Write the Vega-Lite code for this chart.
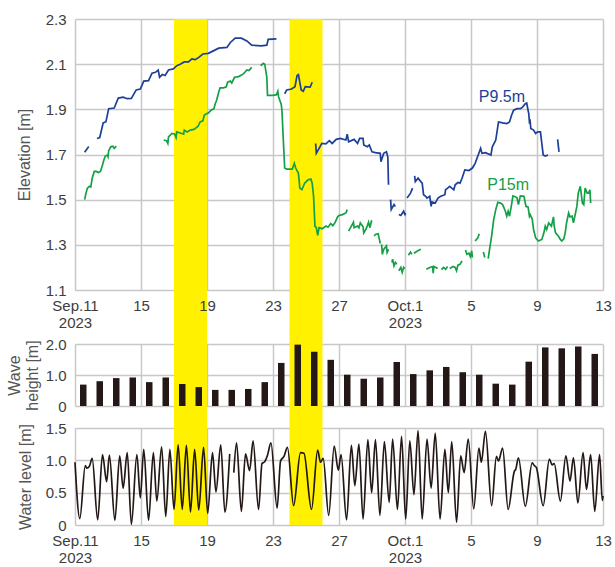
{
  "padding": {"left": 6, "right": 2, "top": 12, "bottom": 0},
  "bounds": "full",
  "spacing": -2,
  "config": {
    "font": "Liberation Sans",
    "view": {"stroke": null},
    "axis": {
      "domain": false,
      "ticks": false,
      "gridColor": "#c8c8c8",
      "gridWidth": 1.5,
      "labelFont": "Liberation Sans",
      "labelFontSize": 15,
      "labelColor": "#3d3d3d",
      "titleFont": "Liberation Sans",
      "titleFontSize": 16,
      "titleFontWeight": "normal",
      "titleColor": "#555555"
    }
  },
  "datasets": {
    "storms": [
      {"start": "2023-09-17T00:00", "end": "2023-09-19T00:00"},
      {"start": "2023-09-24T00:00", "end": "2023-09-26T00:00"}
    ],
    "elevation": [
      {"series": "P9.5m", "seg": "b1", "t": "2023-09-11T14:00", "v": 1.71},
      {"series": "P9.5m", "seg": "b1", "t": "2023-09-11T20:00", "v": 1.735},
      {"series": "P9.5m", "seg": "b2", "t": "2023-09-12T08:00", "v": 1.771},
      {"series": "P9.5m", "seg": "b2", "t": "2023-09-12T12:00", "v": 1.775},
      {"series": "P9.5m", "seg": "b2", "t": "2023-09-12T17:00", "v": 1.84},
      {"series": "P9.5m", "seg": "b2", "t": "2023-09-12T21:00", "v": 1.845},
      {"series": "P9.5m", "seg": "b2", "t": "2023-09-13T01:00", "v": 1.903},
      {"series": "P9.5m", "seg": "b2", "t": "2023-09-13T09:00", "v": 1.906},
      {"series": "P9.5m", "seg": "b2", "t": "2023-09-13T15:00", "v": 1.95},
      {"series": "P9.5m", "seg": "b2", "t": "2023-09-13T22:00", "v": 1.954},
      {"series": "P9.5m", "seg": "b2", "t": "2023-09-14T04:00", "v": 1.947},
      {"series": "P9.5m", "seg": "b2", "t": "2023-09-14T10:00", "v": 1.948},
      {"series": "P9.5m", "seg": "b2", "t": "2023-09-14T17:00", "v": 1.986},
      {"series": "P9.5m", "seg": "b2", "t": "2023-09-14T23:00", "v": 1.99},
      {"series": "P9.5m", "seg": "b2", "t": "2023-09-15T04:00", "v": 2.025},
      {"series": "P9.5m", "seg": "b2", "t": "2023-09-15T11:00", "v": 2.027},
      {"series": "P9.5m", "seg": "b2", "t": "2023-09-15T16:00", "v": 2.06},
      {"series": "P9.5m", "seg": "b2", "t": "2023-09-15T21:00", "v": 2.064},
      {"series": "P9.5m", "seg": "b2", "t": "2023-09-16T01:00", "v": 2.074},
      {"series": "P9.5m", "seg": "b2", "t": "2023-09-16T03:00", "v": 2.042},
      {"series": "P9.5m", "seg": "b2", "t": "2023-09-16T07:00", "v": 2.054},
      {"series": "P9.5m", "seg": "b2", "t": "2023-09-16T11:00", "v": 2.05},
      {"series": "P9.5m", "seg": "b2", "t": "2023-09-16T16:00", "v": 2.074},
      {"series": "P9.5m", "seg": "b2", "t": "2023-09-16T23:00", "v": 2.079},
      {"series": "P9.5m", "seg": "b2", "t": "2023-09-17T04:00", "v": 2.093},
      {"series": "P9.5m", "seg": "b2", "t": "2023-09-17T09:00", "v": 2.1},
      {"series": "P9.5m", "seg": "b2", "t": "2023-09-17T15:00", "v": 2.11},
      {"series": "P9.5m", "seg": "b2", "t": "2023-09-17T21:00", "v": 2.11},
      {"series": "P9.5m", "seg": "b2", "t": "2023-09-18T02:00", "v": 2.123},
      {"series": "P9.5m", "seg": "b2", "t": "2023-09-18T07:00", "v": 2.12},
      {"series": "P9.5m", "seg": "b2", "t": "2023-09-18T12:00", "v": 2.13},
      {"series": "P9.5m", "seg": "b2", "t": "2023-09-18T18:00", "v": 2.145},
      {"series": "P9.5m", "seg": "b2", "t": "2023-09-19T02:00", "v": 2.148},
      {"series": "P9.5m", "seg": "b2", "t": "2023-09-19T10:00", "v": 2.16},
      {"series": "P9.5m", "seg": "b2", "t": "2023-09-19T17:00", "v": 2.171},
      {"series": "P9.5m", "seg": "b2", "t": "2023-09-20T05:00", "v": 2.174},
      {"series": "P9.5m", "seg": "b2", "t": "2023-09-20T10:00", "v": 2.196},
      {"series": "P9.5m", "seg": "b2", "t": "2023-09-20T17:00", "v": 2.215},
      {"series": "P9.5m", "seg": "b2", "t": "2023-09-21T02:00", "v": 2.215},
      {"series": "P9.5m", "seg": "b2", "t": "2023-09-21T10:00", "v": 2.203},
      {"series": "P9.5m", "seg": "b2", "t": "2023-09-21T17:00", "v": 2.184},
      {"series": "P9.5m", "seg": "b2", "t": "2023-09-22T07:00", "v": 2.181},
      {"series": "P9.5m", "seg": "b2", "t": "2023-09-22T15:00", "v": 2.184},
      {"series": "P9.5m", "seg": "b2", "t": "2023-09-22T17:00", "v": 2.21},
      {"series": "P9.5m", "seg": "b2", "t": "2023-09-23T05:00", "v": 2.212},
      {"series": "P9.5m", "seg": "b3", "t": "2023-09-23T17:00", "v": 1.969},
      {"series": "P9.5m", "seg": "b3", "t": "2023-09-23T20:00", "v": 1.986},
      {"series": "P9.5m", "seg": "b3", "t": "2023-09-24T03:00", "v": 1.99},
      {"series": "P9.5m", "seg": "b3", "t": "2023-09-24T08:00", "v": 2.0},
      {"series": "P9.5m", "seg": "b3", "t": "2023-09-24T11:00", "v": 2.05},
      {"series": "P9.5m", "seg": "b3", "t": "2023-09-24T13:00", "v": 2.054},
      {"series": "P9.5m", "seg": "b3", "t": "2023-09-24T17:00", "v": 1.986},
      {"series": "P9.5m", "seg": "b3", "t": "2023-09-24T20:00", "v": 1.98},
      {"series": "P9.5m", "seg": "b3", "t": "2023-09-24T23:00", "v": 2.0},
      {"series": "P9.5m", "seg": "b3", "t": "2023-09-25T06:00", "v": 1.998},
      {"series": "P9.5m", "seg": "b3", "t": "2023-09-25T09:00", "v": 2.02},
      {"series": "P9.5m", "seg": "b4", "t": "2023-09-25T14:00", "v": 1.749},
      {"series": "P9.5m", "seg": "b4", "t": "2023-09-25T15:00", "v": 1.705},
      {"series": "P9.5m", "seg": "b4", "t": "2023-09-25T19:00", "v": 1.727},
      {"series": "P9.5m", "seg": "b4", "t": "2023-09-25T23:00", "v": 1.749},
      {"series": "P9.5m", "seg": "b4", "t": "2023-09-26T05:00", "v": 1.747},
      {"series": "P9.5m", "seg": "b4", "t": "2023-09-26T10:00", "v": 1.761},
      {"series": "P9.5m", "seg": "b4", "t": "2023-09-26T14:00", "v": 1.749},
      {"series": "P9.5m", "seg": "b4", "t": "2023-09-26T20:00", "v": 1.767},
      {"series": "P9.5m", "seg": "b4", "t": "2023-09-27T02:00", "v": 1.771},
      {"series": "P9.5m", "seg": "b4", "t": "2023-09-27T10:00", "v": 1.764},
      {"series": "P9.5m", "seg": "b4", "t": "2023-09-27T12:00", "v": 1.79},
      {"series": "P9.5m", "seg": "b4", "t": "2023-09-27T14:00", "v": 1.756},
      {"series": "P9.5m", "seg": "b4", "t": "2023-09-27T22:00", "v": 1.767},
      {"series": "P9.5m", "seg": "b4", "t": "2023-09-28T03:00", "v": 1.749},
      {"series": "P9.5m", "seg": "b4", "t": "2023-09-28T06:00", "v": 1.771},
      {"series": "P9.5m", "seg": "b4", "t": "2023-09-28T11:00", "v": 1.771},
      {"series": "P9.5m", "seg": "b4", "t": "2023-09-28T12:00", "v": 1.742},
      {"series": "P9.5m", "seg": "b4", "t": "2023-09-28T17:00", "v": 1.734},
      {"series": "P9.5m", "seg": "b4", "t": "2023-09-28T20:00", "v": 1.742},
      {"series": "P9.5m", "seg": "b4", "t": "2023-09-29T00:00", "v": 1.712},
      {"series": "P9.5m", "seg": "b4", "t": "2023-09-29T05:00", "v": 1.708},
      {"series": "P9.5m", "seg": "b4", "t": "2023-09-29T12:00", "v": 1.705},
      {"series": "P9.5m", "seg": "b4", "t": "2023-09-29T13:00", "v": 1.668},
      {"series": "P9.5m", "seg": "b4", "t": "2023-09-29T17:00", "v": 1.705},
      {"series": "P9.5m", "seg": "b4", "t": "2023-09-29T21:00", "v": 1.712},
      {"series": "P9.5m", "seg": "b4", "t": "2023-09-29T23:00", "v": 1.69},
      {"series": "P9.5m", "seg": "b4", "t": "2023-09-30T00:00", "v": 1.566},
      {"series": "P9.5m", "seg": "b5", "t": "2023-09-30T03:00", "v": 1.5},
      {"series": "P9.5m", "seg": "b5", "t": "2023-09-30T04:00", "v": 1.456},
      {"series": "P9.5m", "seg": "b5", "t": "2023-09-30T08:00", "v": 1.478},
      {"series": "P9.5m", "seg": "b5", "t": "2023-09-30T10:00", "v": 1.47},
      {"series": "P9.5m", "seg": "b6", "t": "2023-09-30T15:00", "v": 1.434},
      {"series": "P9.5m", "seg": "b6", "t": "2023-09-30T18:00", "v": 1.43},
      {"series": "P9.5m", "seg": "b6", "t": "2023-09-30T22:00", "v": 1.449},
      {"series": "P9.5m", "seg": "b6", "t": "2023-10-01T00:00", "v": 1.434},
      {"series": "P9.5m", "seg": "b6", "t": "2023-10-01T01:00", "v": 1.44},
      {"series": "P9.5m", "seg": "b7", "t": "2023-10-01T03:00", "v": 1.507},
      {"series": "P9.5m", "seg": "b7", "t": "2023-10-01T08:00", "v": 1.529},
      {"series": "P9.5m", "seg": "b7", "t": "2023-10-01T11:00", "v": 1.551},
      {"series": "P9.5m", "seg": "b8", "t": "2023-10-01T14:00", "v": 1.605},
      {"series": "P9.5m", "seg": "b8", "t": "2023-10-01T15:00", "v": 1.58},
      {"series": "P9.5m", "seg": "b8", "t": "2023-10-01T19:00", "v": 1.595},
      {"series": "P9.5m", "seg": "b8", "t": "2023-10-01T23:00", "v": 1.58},
      {"series": "P9.5m", "seg": "b8", "t": "2023-10-02T01:00", "v": 1.573},
      {"series": "P9.5m", "seg": "b8", "t": "2023-10-02T03:00", "v": 1.522},
      {"series": "P9.5m", "seg": "b8", "t": "2023-10-02T06:00", "v": 1.515},
      {"series": "P9.5m", "seg": "b8", "t": "2023-10-02T08:00", "v": 1.507},
      {"series": "P9.5m", "seg": "b8", "t": "2023-10-02T12:00", "v": 1.515},
      {"series": "P9.5m", "seg": "b8", "t": "2023-10-02T14:00", "v": 1.47},
      {"series": "P9.5m", "seg": "b8", "t": "2023-10-02T15:00", "v": 1.49},
      {"series": "P9.5m", "seg": "b8", "t": "2023-10-02T20:00", "v": 1.485},
      {"series": "P9.5m", "seg": "b8", "t": "2023-10-03T00:00", "v": 1.507},
      {"series": "P9.5m", "seg": "b8", "t": "2023-10-03T04:00", "v": 1.515},
      {"series": "P9.5m", "seg": "b8", "t": "2023-10-03T10:00", "v": 1.522},
      {"series": "P9.5m", "seg": "b8", "t": "2023-10-03T11:00", "v": 1.544},
      {"series": "P9.5m", "seg": "b8", "t": "2023-10-03T14:00", "v": 1.551},
      {"series": "P9.5m", "seg": "b8", "t": "2023-10-03T17:00", "v": 1.559},
      {"series": "P9.5m", "seg": "b8", "t": "2023-10-03T20:00", "v": 1.551},
      {"series": "P9.5m", "seg": "b8", "t": "2023-10-03T23:00", "v": 1.544},
      {"series": "P9.5m", "seg": "b8", "t": "2023-10-04T01:00", "v": 1.566},
      {"series": "P9.5m", "seg": "b8", "t": "2023-10-04T05:00", "v": 1.576},
      {"series": "P9.5m", "seg": "b8", "t": "2023-10-04T08:00", "v": 1.573},
      {"series": "P9.5m", "seg": "b8", "t": "2023-10-04T11:00", "v": 1.595},
      {"series": "P9.5m", "seg": "b8", "t": "2023-10-04T15:00", "v": 1.632},
      {"series": "P9.5m", "seg": "b8", "t": "2023-10-04T21:00", "v": 1.629},
      {"series": "P9.5m", "seg": "b8", "t": "2023-10-05T02:00", "v": 1.64},
      {"series": "P9.5m", "seg": "b8", "t": "2023-10-05T06:00", "v": 1.661},
      {"series": "P9.5m", "seg": "b8", "t": "2023-10-05T11:00", "v": 1.702},
      {"series": "P9.5m", "seg": "b8", "t": "2023-10-05T14:00", "v": 1.727},
      {"series": "P9.5m", "seg": "b8", "t": "2023-10-05T16:00", "v": 1.705},
      {"series": "P9.5m", "seg": "b8", "t": "2023-10-05T21:00", "v": 1.708},
      {"series": "P9.5m", "seg": "b8", "t": "2023-10-06T05:00", "v": 1.698},
      {"series": "P9.5m", "seg": "b8", "t": "2023-10-06T07:00", "v": 1.734},
      {"series": "P9.5m", "seg": "b8", "t": "2023-10-06T12:00", "v": 1.764},
      {"series": "P9.5m", "seg": "b8", "t": "2023-10-06T16:00", "v": 1.844},
      {"series": "P9.5m", "seg": "b8", "t": "2023-10-06T22:00", "v": 1.84},
      {"series": "P9.5m", "seg": "b8", "t": "2023-10-07T04:00", "v": 1.837},
      {"series": "P9.5m", "seg": "b8", "t": "2023-10-07T08:00", "v": 1.844},
      {"series": "P9.5m", "seg": "b8", "t": "2023-10-07T11:00", "v": 1.874},
      {"series": "P9.5m", "seg": "b8", "t": "2023-10-07T14:00", "v": 1.896},
      {"series": "P9.5m", "seg": "b8", "t": "2023-10-07T19:00", "v": 1.903},
      {"series": "P9.5m", "seg": "b8", "t": "2023-10-08T00:00", "v": 1.903},
      {"series": "P9.5m", "seg": "b8", "t": "2023-10-08T03:00", "v": 1.91},
      {"series": "P9.5m", "seg": "b8", "t": "2023-10-08T07:00", "v": 1.925},
      {"series": "P9.5m", "seg": "b8", "t": "2023-10-08T09:00", "v": 1.928},
      {"series": "P9.5m", "seg": "b8", "t": "2023-10-08T11:00", "v": 1.896},
      {"series": "P9.5m", "seg": "b8", "t": "2023-10-08T12:00", "v": 1.881},
      {"series": "P9.5m", "seg": "b8", "t": "2023-10-08T13:00", "v": 1.844},
      {"series": "P9.5m", "seg": "b8", "t": "2023-10-08T14:00", "v": 1.848},
      {"series": "P9.5m", "seg": "b8", "t": "2023-10-08T15:00", "v": 1.815},
      {"series": "P9.5m", "seg": "b8", "t": "2023-10-08T19:00", "v": 1.808},
      {"series": "P9.5m", "seg": "b8", "t": "2023-10-08T22:00", "v": 1.793},
      {"series": "P9.5m", "seg": "b8", "t": "2023-10-09T01:00", "v": 1.8},
      {"series": "P9.5m", "seg": "b8", "t": "2023-10-09T05:00", "v": 1.8},
      {"series": "P9.5m", "seg": "b8", "t": "2023-10-09T07:00", "v": 1.749},
      {"series": "P9.5m", "seg": "b8", "t": "2023-10-09T09:00", "v": 1.698},
      {"series": "P9.5m", "seg": "b8", "t": "2023-10-09T12:00", "v": 1.693},
      {"series": "P9.5m", "seg": "b8", "t": "2023-10-09T16:00", "v": 1.698},
      {"series": "P9.5m", "seg": "b9", "t": "2023-10-10T06:00", "v": 1.767},
      {"series": "P9.5m", "seg": "b9", "t": "2023-10-10T08:00", "v": 1.712},
      {"series": "P15m", "seg": "g1", "t": "2023-09-11T14:00", "v": 1.5},
      {"series": "P15m", "seg": "g1", "t": "2023-09-11T16:00", "v": 1.529},
      {"series": "P15m", "seg": "g1", "t": "2023-09-11T18:00", "v": 1.551},
      {"series": "P15m", "seg": "g1", "t": "2023-09-11T21:00", "v": 1.559},
      {"series": "P15m", "seg": "g1", "t": "2023-09-11T23:00", "v": 1.556},
      {"series": "P15m", "seg": "g1", "t": "2023-09-12T01:00", "v": 1.595},
      {"series": "P15m", "seg": "g1", "t": "2023-09-12T04:00", "v": 1.625},
      {"series": "P15m", "seg": "g1", "t": "2023-09-12T07:00", "v": 1.625},
      {"series": "P15m", "seg": "g1", "t": "2023-09-12T10:00", "v": 1.62},
      {"series": "P15m", "seg": "g1", "t": "2023-09-12T13:00", "v": 1.625},
      {"series": "P15m", "seg": "g1", "t": "2023-09-12T16:00", "v": 1.654},
      {"series": "P15m", "seg": "g1", "t": "2023-09-12T18:00", "v": 1.676},
      {"series": "P15m", "seg": "g1", "t": "2023-09-12T20:00", "v": 1.693},
      {"series": "P15m", "seg": "g1", "t": "2023-09-12T23:00", "v": 1.697},
      {"series": "P15m", "seg": "g1", "t": "2023-09-13T00:00", "v": 1.69},
      {"series": "P15m", "seg": "g1", "t": "2023-09-13T01:00", "v": 1.717},
      {"series": "P15m", "seg": "g1", "t": "2023-09-13T04:00", "v": 1.734},
      {"series": "P15m", "seg": "g1", "t": "2023-09-13T07:00", "v": 1.737},
      {"series": "P15m", "seg": "g1", "t": "2023-09-13T09:00", "v": 1.727},
      {"series": "P15m", "seg": "g1", "t": "2023-09-13T12:00", "v": 1.737},
      {"series": "P15m", "seg": "g2", "t": "2023-09-16T09:00", "v": 1.764},
      {"series": "P15m", "seg": "g2", "t": "2023-09-16T13:00", "v": 1.761},
      {"series": "P15m", "seg": "g2", "t": "2023-09-16T15:00", "v": 1.749},
      {"series": "P15m", "seg": "g2", "t": "2023-09-16T16:00", "v": 1.778},
      {"series": "P15m", "seg": "g2", "t": "2023-09-16T21:00", "v": 1.793},
      {"series": "P15m", "seg": "g2", "t": "2023-09-17T01:00", "v": 1.79},
      {"series": "P15m", "seg": "g2", "t": "2023-09-17T03:00", "v": 1.775},
      {"series": "P15m", "seg": "g2", "t": "2023-09-17T04:00", "v": 1.8},
      {"series": "P15m", "seg": "g2", "t": "2023-09-17T09:00", "v": 1.795},
      {"series": "P15m", "seg": "g2", "t": "2023-09-17T14:00", "v": 1.79},
      {"series": "P15m", "seg": "g2", "t": "2023-09-17T15:00", "v": 1.808},
      {"series": "P15m", "seg": "g2", "t": "2023-09-17T19:00", "v": 1.8},
      {"series": "P15m", "seg": "g2", "t": "2023-09-17T23:45", "v": 1.808},
      {"series": "P15m", "seg": "g2", "t": "2023-09-18T05:00", "v": 1.811},
      {"series": "P15m", "seg": "g2", "t": "2023-09-18T08:00", "v": 1.818},
      {"series": "P15m", "seg": "g2", "t": "2023-09-18T11:00", "v": 1.825},
      {"series": "P15m", "seg": "g2", "t": "2023-09-18T14:00", "v": 1.844},
      {"series": "P15m", "seg": "g2", "t": "2023-09-18T18:00", "v": 1.849},
      {"series": "P15m", "seg": "g2", "t": "2023-09-18T20:00", "v": 1.874},
      {"series": "P15m", "seg": "g2", "t": "2023-09-18T23:45", "v": 1.881},
      {"series": "P15m", "seg": "g2", "t": "2023-09-19T02:00", "v": 1.884},
      {"series": "P15m", "seg": "g2", "t": "2023-09-19T06:00", "v": 1.896},
      {"series": "P15m", "seg": "g2", "t": "2023-09-19T10:00", "v": 1.903},
      {"series": "P15m", "seg": "g2", "t": "2023-09-19T12:00", "v": 1.925},
      {"series": "P15m", "seg": "g2", "t": "2023-09-19T14:00", "v": 1.94},
      {"series": "P15m", "seg": "g2", "t": "2023-09-19T17:00", "v": 1.976},
      {"series": "P15m", "seg": "g2", "t": "2023-09-19T19:00", "v": 1.995},
      {"series": "P15m", "seg": "g2", "t": "2023-09-20T00:00", "v": 1.995},
      {"series": "P15m", "seg": "g2", "t": "2023-09-20T04:00", "v": 2.0},
      {"series": "P15m", "seg": "g2", "t": "2023-09-20T06:00", "v": 2.02},
      {"series": "P15m", "seg": "g2", "t": "2023-09-20T10:00", "v": 2.025},
      {"series": "P15m", "seg": "g2", "t": "2023-09-20T12:00", "v": 2.016},
      {"series": "P15m", "seg": "g2", "t": "2023-09-20T16:00", "v": 2.042},
      {"series": "P15m", "seg": "g2", "t": "2023-09-20T22:00", "v": 2.045},
      {"series": "P15m", "seg": "g2", "t": "2023-09-21T05:00", "v": 2.057},
      {"series": "P15m", "seg": "g2", "t": "2023-09-21T07:00", "v": 2.064},
      {"series": "P15m", "seg": "g2", "t": "2023-09-21T10:00", "v": 2.074},
      {"series": "P15m", "seg": "g2", "t": "2023-09-21T13:00", "v": 2.072},
      {"series": "P15m", "seg": "g2", "t": "2023-09-21T17:00", "v": 2.086},
      {"series": "P15m", "seg": "g3", "t": "2023-09-22T06:00", "v": 2.093},
      {"series": "P15m", "seg": "g3", "t": "2023-09-22T10:00", "v": 2.104},
      {"series": "P15m", "seg": "g3", "t": "2023-09-22T12:00", "v": 2.1},
      {"series": "P15m", "seg": "g3", "t": "2023-09-22T15:00", "v": 2.042},
      {"series": "P15m", "seg": "g3", "t": "2023-09-22T16:00", "v": 1.962},
      {"series": "P15m", "seg": "g3", "t": "2023-09-22T20:00", "v": 1.962},
      {"series": "P15m", "seg": "g3", "t": "2023-09-23T00:00", "v": 1.962},
      {"series": "P15m", "seg": "g3", "t": "2023-09-23T05:00", "v": 1.965},
      {"series": "P15m", "seg": "g3", "t": "2023-09-23T07:00", "v": 1.98},
      {"series": "P15m", "seg": "g3", "t": "2023-09-23T08:00", "v": 1.957},
      {"series": "P15m", "seg": "g3", "t": "2023-09-23T12:00", "v": 1.922},
      {"series": "P15m", "seg": "g3", "t": "2023-09-23T13:00", "v": 1.896},
      {"series": "P15m", "seg": "g3", "t": "2023-09-23T15:00", "v": 1.764},
      {"series": "P15m", "seg": "g3", "t": "2023-09-23T17:00", "v": 1.64},
      {"series": "P15m", "seg": "g3", "t": "2023-09-23T20:00", "v": 1.635},
      {"series": "P15m", "seg": "g3", "t": "2023-09-24T01:00", "v": 1.635},
      {"series": "P15m", "seg": "g3", "t": "2023-09-24T04:00", "v": 1.635},
      {"series": "P15m", "seg": "g3", "t": "2023-09-24T07:00", "v": 1.661},
      {"series": "P15m", "seg": "g3", "t": "2023-09-24T09:00", "v": 1.64},
      {"series": "P15m", "seg": "g3", "t": "2023-09-24T13:00", "v": 1.617},
      {"series": "P15m", "seg": "g3", "t": "2023-09-24T15:00", "v": 1.551},
      {"series": "P15m", "seg": "g3", "t": "2023-09-24T18:00", "v": 1.544},
      {"series": "P15m", "seg": "g3", "t": "2023-09-24T22:00", "v": 1.573},
      {"series": "P15m", "seg": "g3", "t": "2023-09-25T03:00", "v": 1.588},
      {"series": "P15m", "seg": "g3", "t": "2023-09-25T07:00", "v": 1.591},
      {"series": "P15m", "seg": "g3", "t": "2023-09-25T09:00", "v": 1.573},
      {"series": "P15m", "seg": "g3", "t": "2023-09-25T11:00", "v": 1.515},
      {"series": "P15m", "seg": "g3", "t": "2023-09-25T13:00", "v": 1.383},
      {"series": "P15m", "seg": "g3", "t": "2023-09-25T15:00", "v": 1.376},
      {"series": "P15m", "seg": "g3", "t": "2023-09-25T17:00", "v": 1.342},
      {"series": "P15m", "seg": "g3", "t": "2023-09-25T19:00", "v": 1.376},
      {"series": "P15m", "seg": "g3", "t": "2023-09-25T23:45", "v": 1.371},
      {"series": "P15m", "seg": "g3", "t": "2023-09-26T05:00", "v": 1.383},
      {"series": "P15m", "seg": "g3", "t": "2023-09-26T08:00", "v": 1.378},
      {"series": "P15m", "seg": "g3", "t": "2023-09-26T12:00", "v": 1.394},
      {"series": "P15m", "seg": "g3", "t": "2023-09-26T15:00", "v": 1.385},
      {"series": "P15m", "seg": "g3", "t": "2023-09-26T18:00", "v": 1.397},
      {"series": "P15m", "seg": "g3", "t": "2023-09-26T22:00", "v": 1.424},
      {"series": "P15m", "seg": "g3", "t": "2023-09-27T00:00", "v": 1.43},
      {"series": "P15m", "seg": "g3", "t": "2023-09-27T05:00", "v": 1.434},
      {"series": "P15m", "seg": "g3", "t": "2023-09-27T10:00", "v": 1.441},
      {"series": "P15m", "seg": "g3", "t": "2023-09-27T12:00", "v": 1.456},
      {"series": "P15m", "seg": "g4", "t": "2023-09-27T14:00", "v": 1.361},
      {"series": "P15m", "seg": "g4", "t": "2023-09-27T18:00", "v": 1.383},
      {"series": "P15m", "seg": "g4", "t": "2023-09-27T21:00", "v": 1.4},
      {"series": "P15m", "seg": "g4", "t": "2023-09-27T22:00", "v": 1.376},
      {"series": "P15m", "seg": "g4", "t": "2023-09-28T03:00", "v": 1.383},
      {"series": "P15m", "seg": "g4", "t": "2023-09-28T05:00", "v": 1.376},
      {"series": "P15m", "seg": "g4", "t": "2023-09-28T07:00", "v": 1.397},
      {"series": "P15m", "seg": "g4", "t": "2023-09-28T11:00", "v": 1.38},
      {"series": "P15m", "seg": "g4", "t": "2023-09-28T12:00", "v": 1.353},
      {"series": "P15m", "seg": "g4", "t": "2023-09-28T15:00", "v": 1.368},
      {"series": "P15m", "seg": "g4", "t": "2023-09-28T17:00", "v": 1.383},
      {"series": "P15m", "seg": "g4", "t": "2023-09-28T19:00", "v": 1.4},
      {"series": "P15m", "seg": "g4", "t": "2023-09-28T21:00", "v": 1.376},
      {"series": "P15m", "seg": "g4", "t": "2023-09-28T23:30", "v": 1.409},
      {"series": "P15m", "seg": "g5", "t": "2023-09-29T03:00", "v": 1.339},
      {"series": "P15m", "seg": "g5", "t": "2023-09-29T05:00", "v": 1.346},
      {"series": "P15m", "seg": "g5", "t": "2023-09-29T09:00", "v": 1.349},
      {"series": "P15m", "seg": "g5", "t": "2023-09-29T11:00", "v": 1.321},
      {"series": "P15m", "seg": "g5", "t": "2023-09-29T12:00", "v": 1.306},
      {"series": "P15m", "seg": "g6", "t": "2023-09-29T14:00", "v": 1.302},
      {"series": "P15m", "seg": "g6", "t": "2023-09-29T15:00", "v": 1.258},
      {"series": "P15m", "seg": "g6", "t": "2023-09-29T17:00", "v": 1.28},
      {"series": "P15m", "seg": "g6", "t": "2023-09-29T21:00", "v": 1.295},
      {"series": "P15m", "seg": "g6", "t": "2023-09-29T22:00", "v": 1.266},
      {"series": "P15m", "seg": "g6", "t": "2023-09-30T00:00", "v": 1.28},
      {"series": "P15m", "seg": "g7", "t": "2023-09-30T05:00", "v": 1.222},
      {"series": "P15m", "seg": "g7", "t": "2023-09-30T06:00", "v": 1.236},
      {"series": "P15m", "seg": "g7", "t": "2023-09-30T08:00", "v": 1.207},
      {"series": "P15m", "seg": "g7", "t": "2023-09-30T10:00", "v": 1.222},
      {"series": "P15m", "seg": "g7", "t": "2023-09-30T12:00", "v": 1.214},
      {"series": "P15m", "seg": "g8", "t": "2023-09-30T15:00", "v": 1.185},
      {"series": "P15m", "seg": "g8", "t": "2023-09-30T18:00", "v": 1.2},
      {"series": "P15m", "seg": "g8", "t": "2023-09-30T20:00", "v": 1.178},
      {"series": "P15m", "seg": "g8", "t": "2023-09-30T22:00", "v": 1.2},
      {"series": "P15m", "seg": "g8", "t": "2023-09-30T23:45", "v": 1.195},
      {"series": "P15m", "seg": "g9", "t": "2023-10-01T05:00", "v": 1.254},
      {"series": "P15m", "seg": "g9", "t": "2023-10-01T08:00", "v": 1.268},
      {"series": "P15m", "seg": "g9", "t": "2023-10-01T10:00", "v": 1.258},
      {"series": "P15m", "seg": "g10", "t": "2023-10-01T13:00", "v": 1.263},
      {"series": "P15m", "seg": "g10", "t": "2023-10-01T18:00", "v": 1.273},
      {"series": "P15m", "seg": "g10", "t": "2023-10-01T23:00", "v": 1.28},
      {"series": "P15m", "seg": "g11", "t": "2023-10-02T07:00", "v": 1.192},
      {"series": "P15m", "seg": "g11", "t": "2023-10-02T12:00", "v": 1.2},
      {"series": "P15m", "seg": "g11", "t": "2023-10-02T16:00", "v": 1.204},
      {"series": "P15m", "seg": "g11", "t": "2023-10-02T17:00", "v": 1.175},
      {"series": "P15m", "seg": "g11", "t": "2023-10-02T18:00", "v": 1.204},
      {"series": "P15m", "seg": "g11", "t": "2023-10-02T21:00", "v": 1.2},
      {"series": "P15m", "seg": "g11", "t": "2023-10-02T23:30", "v": 1.195},
      {"series": "P15m", "seg": "g12", "t": "2023-10-03T05:00", "v": 1.19},
      {"series": "P15m", "seg": "g12", "t": "2023-10-03T08:00", "v": 1.2},
      {"series": "P15m", "seg": "g12", "t": "2023-10-03T11:00", "v": 1.192},
      {"series": "P15m", "seg": "g12", "t": "2023-10-03T14:00", "v": 1.204},
      {"series": "P15m", "seg": "g13", "t": "2023-10-03T17:00", "v": 1.195},
      {"series": "P15m", "seg": "g13", "t": "2023-10-03T22:00", "v": 1.204},
      {"series": "P15m", "seg": "g13", "t": "2023-10-04T01:00", "v": 1.2},
      {"series": "P15m", "seg": "g13", "t": "2023-10-04T03:00", "v": 1.185},
      {"series": "P15m", "seg": "g13", "t": "2023-10-04T05:00", "v": 1.21},
      {"series": "P15m", "seg": "g13", "t": "2023-10-04T08:00", "v": 1.214},
      {"series": "P15m", "seg": "g13", "t": "2023-10-04T11:00", "v": 1.229},
      {"series": "P15m", "seg": "g14", "t": "2023-10-04T16:00", "v": 1.277},
      {"series": "P15m", "seg": "g14", "t": "2023-10-04T18:00", "v": 1.258},
      {"series": "P15m", "seg": "g14", "t": "2023-10-04T21:00", "v": 1.263},
      {"series": "P15m", "seg": "g14", "t": "2023-10-04T23:00", "v": 1.248},
      {"series": "P15m", "seg": "g14", "t": "2023-10-05T01:00", "v": 1.273},
      {"series": "P15m", "seg": "g14", "t": "2023-10-05T02:00", "v": 1.244},
      {"series": "P15m", "seg": "g15", "t": "2023-10-05T06:00", "v": 1.317},
      {"series": "P15m", "seg": "g15", "t": "2023-10-05T10:00", "v": 1.331},
      {"series": "P15m", "seg": "g15", "t": "2023-10-05T12:00", "v": 1.349},
      {"series": "P15m", "seg": "g16", "t": "2023-10-05T18:00", "v": 1.268},
      {"series": "P15m", "seg": "g16", "t": "2023-10-05T20:00", "v": 1.244},
      {"series": "P15m", "seg": "g17", "t": "2023-10-06T01:00", "v": 1.239},
      {"series": "P15m", "seg": "g17", "t": "2023-10-06T03:00", "v": 1.28},
      {"series": "P15m", "seg": "g17", "t": "2023-10-06T06:00", "v": 1.339},
      {"series": "P15m", "seg": "g17", "t": "2023-10-06T09:00", "v": 1.412},
      {"series": "P15m", "seg": "g17", "t": "2023-10-06T12:00", "v": 1.456},
      {"series": "P15m", "seg": "g17", "t": "2023-10-06T15:00", "v": 1.488},
      {"series": "P15m", "seg": "g17", "t": "2023-10-06T19:00", "v": 1.485},
      {"series": "P15m", "seg": "g17", "t": "2023-10-06T22:00", "v": 1.478},
      {"series": "P15m", "seg": "g17", "t": "2023-10-07T02:00", "v": 1.449},
      {"series": "P15m", "seg": "g17", "t": "2023-10-07T04:00", "v": 1.427},
      {"series": "P15m", "seg": "g17", "t": "2023-10-07T06:00", "v": 1.449},
      {"series": "P15m", "seg": "g17", "t": "2023-10-07T08:00", "v": 1.427},
      {"series": "P15m", "seg": "g17", "t": "2023-10-07T11:00", "v": 1.478},
      {"series": "P15m", "seg": "g17", "t": "2023-10-07T13:00", "v": 1.517},
      {"series": "P15m", "seg": "g17", "t": "2023-10-07T17:00", "v": 1.512},
      {"series": "P15m", "seg": "g17", "t": "2023-10-07T19:00", "v": 1.508},
      {"series": "P15m", "seg": "g17", "t": "2023-10-07T21:00", "v": 1.478},
      {"series": "P15m", "seg": "g17", "t": "2023-10-07T23:45", "v": 1.517},
      {"series": "P15m", "seg": "g17", "t": "2023-10-08T05:00", "v": 1.515},
      {"series": "P15m", "seg": "g17", "t": "2023-10-08T08:00", "v": 1.47},
      {"series": "P15m", "seg": "g17", "t": "2023-10-08T11:00", "v": 1.468},
      {"series": "P15m", "seg": "g17", "t": "2023-10-08T13:00", "v": 1.427},
      {"series": "P15m", "seg": "g17", "t": "2023-10-08T14:00", "v": 1.434},
      {"series": "P15m", "seg": "g17", "t": "2023-10-08T17:00", "v": 1.415},
      {"series": "P15m", "seg": "g17", "t": "2023-10-08T19:00", "v": 1.368},
      {"series": "P15m", "seg": "g17", "t": "2023-10-08T22:00", "v": 1.331},
      {"series": "P15m", "seg": "g17", "t": "2023-10-09T02:00", "v": 1.317},
      {"series": "P15m", "seg": "g17", "t": "2023-10-09T07:00", "v": 1.324},
      {"series": "P15m", "seg": "g17", "t": "2023-10-09T10:00", "v": 1.353},
      {"series": "P15m", "seg": "g17", "t": "2023-10-09T12:00", "v": 1.383},
      {"series": "P15m", "seg": "g17", "t": "2023-10-09T14:00", "v": 1.368},
      {"series": "P15m", "seg": "g17", "t": "2023-10-09T17:00", "v": 1.397},
      {"series": "P15m", "seg": "g17", "t": "2023-10-09T21:00", "v": 1.383},
      {"series": "P15m", "seg": "g17", "t": "2023-10-10T00:00", "v": 1.424},
      {"series": "P15m", "seg": "g17", "t": "2023-10-10T01:00", "v": 1.383},
      {"series": "P15m", "seg": "g17", "t": "2023-10-10T03:00", "v": 1.353},
      {"series": "P15m", "seg": "g17", "t": "2023-10-10T07:00", "v": 1.339},
      {"series": "P15m", "seg": "g17", "t": "2023-10-10T10:00", "v": 1.324},
      {"series": "P15m", "seg": "g17", "t": "2023-10-10T12:00", "v": 1.317},
      {"series": "P15m", "seg": "g17", "t": "2023-10-10T15:00", "v": 1.327},
      {"series": "P15m", "seg": "g17", "t": "2023-10-10T17:00", "v": 1.353},
      {"series": "P15m", "seg": "g17", "t": "2023-10-10T19:00", "v": 1.397},
      {"series": "P15m", "seg": "g17", "t": "2023-10-10T22:00", "v": 1.441},
      {"series": "P15m", "seg": "g17", "t": "2023-10-11T00:00", "v": 1.424},
      {"series": "P15m", "seg": "g17", "t": "2023-10-11T03:00", "v": 1.427},
      {"series": "P15m", "seg": "g17", "t": "2023-10-11T05:00", "v": 1.397},
      {"series": "P15m", "seg": "g17", "t": "2023-10-11T08:00", "v": 1.441},
      {"series": "P15m", "seg": "g17", "t": "2023-10-11T10:00", "v": 1.47},
      {"series": "P15m", "seg": "g17", "t": "2023-10-11T12:00", "v": 1.529},
      {"series": "P15m", "seg": "g17", "t": "2023-10-11T15:00", "v": 1.559},
      {"series": "P15m", "seg": "g17", "t": "2023-10-11T18:00", "v": 1.485},
      {"series": "P15m", "seg": "g17", "t": "2023-10-11T20:00", "v": 1.478},
      {"series": "P15m", "seg": "g17", "t": "2023-10-11T22:00", "v": 1.551},
      {"series": "P15m", "seg": "g17", "t": "2023-10-12T01:00", "v": 1.529},
      {"series": "P15m", "seg": "g17", "t": "2023-10-12T03:00", "v": 1.529},
      {"series": "P15m", "seg": "g17", "t": "2023-10-12T05:00", "v": 1.544},
      {"series": "P15m", "seg": "g17", "t": "2023-10-12T06:00", "v": 1.485}
    ],
    "waves": [
      {"t": "2023-09-11T12:00", "h": 0.69},
      {"t": "2023-09-12T12:00", "h": 0.8},
      {"t": "2023-09-13T12:00", "h": 0.9},
      {"t": "2023-09-14T12:00", "h": 0.92},
      {"t": "2023-09-15T12:00", "h": 0.77},
      {"t": "2023-09-16T12:00", "h": 0.92},
      {"t": "2023-09-17T12:00", "h": 0.71},
      {"t": "2023-09-18T12:00", "h": 0.61},
      {"t": "2023-09-19T12:00", "h": 0.52},
      {"t": "2023-09-20T12:00", "h": 0.52},
      {"t": "2023-09-21T12:00", "h": 0.55},
      {"t": "2023-09-22T12:00", "h": 0.77},
      {"t": "2023-09-23T12:00", "h": 1.39},
      {"t": "2023-09-24T12:00", "h": 1.98},
      {"t": "2023-09-25T12:00", "h": 1.75},
      {"t": "2023-09-26T12:00", "h": 1.49},
      {"t": "2023-09-27T12:00", "h": 1.01},
      {"t": "2023-09-28T12:00", "h": 0.88},
      {"t": "2023-09-29T12:00", "h": 0.92},
      {"t": "2023-09-30T12:00", "h": 1.42},
      {"t": "2023-10-01T12:00", "h": 1.03},
      {"t": "2023-10-02T12:00", "h": 1.15},
      {"t": "2023-10-03T12:00", "h": 1.26},
      {"t": "2023-10-04T12:00", "h": 1.09},
      {"t": "2023-10-05T12:00", "h": 1.01},
      {"t": "2023-10-06T12:00", "h": 0.72},
      {"t": "2023-10-07T12:00", "h": 0.69},
      {"t": "2023-10-08T12:00", "h": 1.43},
      {"t": "2023-10-09T12:00", "h": 1.89},
      {"t": "2023-10-10T12:00", "h": 1.86},
      {"t": "2023-10-11T12:00", "h": 1.92},
      {"t": "2023-10-12T12:00", "h": 1.68}
    ],
    "tide": [
      {"seg": 1, "t": "2023-09-11T00:00", "v": 0.97},
      {"seg": 1, "t": "2023-09-11T07:00", "v": 0.1},
      {"seg": 1, "t": "2023-09-11T15:00", "v": 0.92},
      {"seg": 1, "t": "2023-09-11T17:00", "v": 0.88},
      {"seg": 1, "t": "2023-09-11T21:00", "v": 0.91},
      {"seg": 1, "t": "2023-09-12T01:00", "v": 1.03},
      {"seg": 1, "t": "2023-09-12T09:00", "v": 0.08},
      {"seg": 1, "t": "2023-09-12T16:00", "v": 1.09},
      {"seg": 1, "t": "2023-09-12T22:00", "v": 0.67},
      {"seg": 1, "t": "2023-09-13T02:00", "v": 1.08},
      {"seg": 1, "t": "2023-09-13T10:00", "v": 0.07},
      {"seg": 1, "t": "2023-09-13T17:00", "v": 1.07},
      {"seg": 1, "t": "2023-09-13T22:00", "v": 0.57},
      {"seg": 1, "t": "2023-09-14T04:00", "v": 1.12},
      {"seg": 1, "t": "2023-09-14T10:00", "v": 0.01},
      {"seg": 1, "t": "2023-09-14T18:00", "v": 1.09},
      {"seg": 1, "t": "2023-09-14T23:00", "v": 0.42},
      {"seg": 1, "t": "2023-09-15T04:00", "v": 1.17},
      {"seg": 1, "t": "2023-09-15T11:00", "v": 0.07},
      {"seg": 1, "t": "2023-09-15T18:00", "v": 1.12},
      {"seg": 1, "t": "2023-09-15T23:00", "v": 0.37},
      {"seg": 1, "t": "2023-09-16T06:00", "v": 1.21},
      {"seg": 1, "t": "2023-09-16T12:00", "v": 0.13},
      {"seg": 1, "t": "2023-09-16T18:00", "v": 1.17},
      {"seg": 1, "t": "2023-09-17T00:00", "v": 0.24},
      {"seg": 1, "t": "2023-09-17T06:00", "v": 1.24},
      {"seg": 1, "t": "2023-09-17T12:00", "v": 0.24},
      {"seg": 1, "t": "2023-09-17T18:00", "v": 1.23},
      {"seg": 1, "t": "2023-09-18T00:00", "v": 0.2},
      {"seg": 1, "t": "2023-09-18T06:00", "v": 1.17},
      {"seg": 1, "t": "2023-09-18T12:00", "v": 0.23},
      {"seg": 1, "t": "2023-09-18T19:00", "v": 1.2},
      {"seg": 1, "t": "2023-09-19T01:00", "v": 0.18},
      {"seg": 1, "t": "2023-09-19T08:00", "v": 1.12},
      {"seg": 1, "t": "2023-09-19T13:00", "v": 0.51},
      {"seg": 1, "t": "2023-09-19T20:00", "v": 1.24},
      {"seg": 1, "t": "2023-09-20T02:00", "v": 0.2},
      {"seg": 1, "t": "2023-09-20T09:00", "v": 1.1},
      {"seg": 2, "t": "2023-09-20T15:00", "v": 0.81},
      {"seg": 2, "t": "2023-09-20T19:00", "v": 1.27},
      {"seg": 2, "t": "2023-09-21T02:00", "v": 0.21},
      {"seg": 2, "t": "2023-09-21T08:00", "v": 1.1},
      {"seg": 2, "t": "2023-09-21T14:00", "v": 0.84},
      {"seg": 2, "t": "2023-09-21T19:00", "v": 1.3},
      {"seg": 2, "t": "2023-09-22T03:00", "v": 0.24},
      {"seg": 2, "t": "2023-09-22T08:00", "v": 0.95},
      {"seg": 2, "t": "2023-09-22T12:00", "v": 0.98},
      {"seg": 2, "t": "2023-09-22T16:00", "v": 1.08},
      {"seg": 2, "t": "2023-09-22T21:00", "v": 1.27},
      {"seg": 2, "t": "2023-09-23T06:00", "v": 0.26},
      {"seg": 2, "t": "2023-09-23T11:00", "v": 0.99},
      {"seg": 2, "t": "2023-09-23T16:00", "v": 1.06},
      {"seg": 2, "t": "2023-09-23T21:00", "v": 1.2},
      {"seg": 2, "t": "2023-09-24T06:00", "v": 0.3},
      {"seg": 2, "t": "2023-09-24T16:00", "v": 1.12},
      {"seg": 2, "t": "2023-09-24T21:00", "v": 1.11},
      {"seg": 2, "t": "2023-09-25T08:00", "v": 0.24},
      {"seg": 2, "t": "2023-09-25T17:00", "v": 1.16},
      {"seg": 2, "t": "2023-09-25T21:00", "v": 0.97},
      {"seg": 2, "t": "2023-09-26T01:00", "v": 1.03},
      {"seg": 2, "t": "2023-09-26T09:00", "v": 0.15},
      {"seg": 2, "t": "2023-09-26T17:00", "v": 1.22},
      {"seg": 2, "t": "2023-09-26T23:00", "v": 0.85},
      {"seg": 2, "t": "2023-09-27T03:00", "v": 1.09},
      {"seg": 2, "t": "2023-09-27T11:00", "v": 0.08},
      {"seg": 2, "t": "2023-09-27T18:00", "v": 1.23},
      {"seg": 2, "t": "2023-09-27T23:00", "v": 0.61},
      {"seg": 2, "t": "2023-09-28T05:00", "v": 1.25},
      {"seg": 2, "t": "2023-09-28T11:00", "v": 0.09},
      {"seg": 2, "t": "2023-09-28T18:00", "v": 1.32},
      {"seg": 2, "t": "2023-09-28T23:30", "v": 0.5},
      {"seg": 2, "t": "2023-09-29T05:00", "v": 1.32},
      {"seg": 2, "t": "2023-09-29T11:30", "v": 0.15},
      {"seg": 2, "t": "2023-09-29T18:00", "v": 1.29},
      {"seg": 2, "t": "2023-09-30T01:00", "v": 0.35},
      {"seg": 2, "t": "2023-09-30T06:00", "v": 1.33},
      {"seg": 2, "t": "2023-09-30T13:00", "v": 0.24},
      {"seg": 2, "t": "2023-09-30T19:00", "v": 1.37},
      {"seg": 2, "t": "2023-10-01T01:00", "v": 0.09},
      {"seg": 2, "t": "2023-10-01T07:00", "v": 1.3},
      {"seg": 2, "t": "2023-10-01T13:00", "v": 0.47},
      {"seg": 2, "t": "2023-10-01T19:00", "v": 1.46},
      {"seg": 2, "t": "2023-10-02T01:00", "v": 0.09},
      {"seg": 2, "t": "2023-10-02T08:00", "v": 1.33},
      {"seg": 2, "t": "2023-10-02T14:00", "v": 0.57},
      {"seg": 2, "t": "2023-10-02T20:00", "v": 1.42},
      {"seg": 2, "t": "2023-10-03T03:00", "v": 0.09},
      {"seg": 2, "t": "2023-10-03T10:00", "v": 1.17},
      {"seg": 2, "t": "2023-10-03T15:00", "v": 0.5},
      {"seg": 2, "t": "2023-10-03T20:00", "v": 1.29},
      {"seg": 2, "t": "2023-10-04T03:00", "v": 0.04},
      {"seg": 2, "t": "2023-10-04T09:00", "v": 1.07},
      {"seg": 2, "t": "2023-10-04T14:00", "v": 0.81},
      {"seg": 2, "t": "2023-10-04T20:00", "v": 1.33},
      {"seg": 2, "t": "2023-10-05T04:00", "v": 0.25},
      {"seg": 2, "t": "2023-10-05T11:30", "v": 1.19},
      {"seg": 2, "t": "2023-10-05T15:00", "v": 0.97},
      {"seg": 2, "t": "2023-10-05T21:00", "v": 1.45},
      {"seg": 2, "t": "2023-10-06T06:00", "v": 0.3},
      {"seg": 2, "t": "2023-10-06T13:00", "v": 1.06},
      {"seg": 2, "t": "2023-10-06T16:00", "v": 0.99},
      {"seg": 2, "t": "2023-10-06T22:00", "v": 1.19},
      {"seg": 2, "t": "2023-10-07T06:00", "v": 0.24},
      {"seg": 2, "t": "2023-10-07T15:00", "v": 0.83},
      {"seg": 2, "t": "2023-10-07T17:00", "v": 0.86},
      {"seg": 2, "t": "2023-10-07T21:00", "v": 1.04},
      {"seg": 2, "t": "2023-10-08T07:00", "v": 0.29},
      {"seg": 2, "t": "2023-10-08T17:00", "v": 0.96},
      {"seg": 2, "t": "2023-10-08T20:00", "v": 0.92},
      {"seg": 2, "t": "2023-10-08T23:00", "v": 0.89},
      {"seg": 2, "t": "2023-10-09T09:00", "v": 0.3},
      {"seg": 2, "t": "2023-10-09T18:00", "v": 1.02},
      {"seg": 2, "t": "2023-10-09T22:00", "v": 0.93},
      {"seg": 2, "t": "2023-10-10T01:00", "v": 0.95},
      {"seg": 2, "t": "2023-10-10T10:00", "v": 0.37},
      {"seg": 2, "t": "2023-10-10T18:00", "v": 1.07},
      {"seg": 2, "t": "2023-10-11T00:00", "v": 0.68},
      {"seg": 2, "t": "2023-10-11T05:00", "v": 1.04},
      {"seg": 2, "t": "2023-10-11T11:30", "v": 0.34},
      {"seg": 2, "t": "2023-10-11T19:00", "v": 1.12},
      {"seg": 2, "t": "2023-10-12T00:00", "v": 0.55},
      {"seg": 2, "t": "2023-10-12T06:00", "v": 1.09},
      {"seg": 2, "t": "2023-10-12T12:00", "v": 0.21},
      {"seg": 2, "t": "2023-10-12T19:00", "v": 1.09},
      {"seg": 2, "t": "2023-10-12T23:00", "v": 0.38},
      {"seg": 2, "t": "2023-10-13T00:00", "v": 0.45}
    ]
  },
  "vconcat": [
    {
      "width": 528,
      "height": 271,
      "layer": [
        {
          "data": {"name": "storms"},
          "mark": {"type": "rect", "color": "#fff100"},
          "encoding": {
            "x": {
              "field": "start", "type": "temporal",
              "scale": {"domain": [{"year": 2023, "month": 9, "date": 11}, {"year": 2023, "month": 10, "date": 13}], "padding": 0},
              "axis": {
                "orient": "bottom", "grid": true, "labels": false, "title": null,
                "values": [{"year": 2023, "month": 9, "date": 11}, {"year": 2023, "month": 9, "date": 15}, {"year": 2023, "month": 9, "date": 19}, {"year": 2023, "month": 9, "date": 23}, {"year": 2023, "month": 9, "date": 27}, {"year": 2023, "month": 10, "date": 1}, {"year": 2023, "month": 10, "date": 5}, {"year": 2023, "month": 10, "date": 9}, {"year": 2023, "month": 10, "date": 13}]
              }
            },
            "x2": {"field": "end"},
            "y": {
              "datum": 2.3, "type": "quantitative", "scale": {"domain": [1.1, 2.3], "zero": false, "nice": false},
              "axis": {"title": "Elevation [m]", "titlePadding": 13, "labelPadding": 9, "grid": true, "values": [1.1, 1.3, 1.5, 1.7, 1.9, 2.1, 2.3], "format": ".1f"}
            },
            "y2": {"datum": 0.902}
          }
        },
        {
          "data": {"name": "elevation"},
          "mark": {"type": "line", "strokeWidth": 1.7},
          "encoding": {
            "x": {
              "field": "t", "type": "temporal",
              "scale": {"domain": [{"year": 2023, "month": 9, "date": 11}, {"year": 2023, "month": 10, "date": 13}], "padding": 0},
              "axis": {
                "orient": "bottom", "grid": false, "title": null, "zindex": 1,
                "labelFlush": false, "labelOverlap": false, "labelPadding": 8,
                "values": [{"year": 2023, "month": 9, "date": 11}, {"year": 2023, "month": 9, "date": 15}, {"year": 2023, "month": 9, "date": 19}, {"year": 2023, "month": 9, "date": 23}, {"year": 2023, "month": 9, "date": 27}, {"year": 2023, "month": 10, "date": 1}, {"year": 2023, "month": 10, "date": 5}, {"year": 2023, "month": 10, "date": 9}, {"year": 2023, "month": 10, "date": 13}],
                "labelExpr": "date(datum.value) == 11 && month(datum.value) == 8 ? ['Sep.11', '2023'] : date(datum.value) == 1 ? ['Oct.1', '2023'] : '' + date(datum.value)"
              }
            },
            "y": {
              "field": "v", "type": "quantitative", "scale": {"domain": [1.1, 2.3], "zero": false, "nice": false},
              "axis": {"title": "Elevation [m]", "titlePadding": 13, "labelPadding": 9, "grid": true, "values": [1.1, 1.3, 1.5, 1.7, 1.9, 2.1, 2.3], "format": ".1f"}
            },
            "color": {"field": "series", "type": "nominal", "scale": {"domain": ["P9.5m", "P15m"], "range": ["#1d3f97", "#14a046"]}, "legend": null},
            "detail": {"field": "seg", "type": "nominal"}
          }
        },
        {
          "data": {"values": [{"series": "P9.5m"}]},
          "mark": {"type": "text", "fontSize": 16, "align": "center", "baseline": "middle"},
          "encoding": {
            "x": {"datum": {"year": 2023, "month": 10, "date": 6, "hours": 21}, "type": "temporal", "axis": null},
            "y": {
              "datum": 1.954, "type": "quantitative", "scale": {"domain": [1.1, 2.3], "zero": false, "nice": false},
              "axis": {"title": "Elevation [m]", "titlePadding": 13, "labelPadding": 9, "grid": true, "values": [1.1, 1.3, 1.5, 1.7, 1.9, 2.1, 2.3], "format": ".1f"}
            },
            "text": {"field": "series"},
            "color": {"field": "series", "type": "nominal", "legend": null}
          }
        },
        {
          "data": {"values": [{"series": "P15m"}]},
          "mark": {"type": "text", "fontSize": 16, "align": "center", "baseline": "middle"},
          "encoding": {
            "x": {"datum": {"year": 2023, "month": 10, "date": 7, "hours": 6}, "type": "temporal", "axis": null},
            "y": {
              "datum": 1.567, "type": "quantitative", "scale": {"domain": [1.1, 2.3], "zero": false, "nice": false},
              "axis": {"title": "Elevation [m]", "titlePadding": 13, "labelPadding": 9, "grid": true, "values": [1.1, 1.3, 1.5, 1.7, 1.9, 2.1, 2.3], "format": ".1f"}
            },
            "text": {"field": "series"},
            "color": {"field": "series", "type": "nominal", "legend": null}
          }
        }
      ],
      "resolve": {"axis": {"x": "independent"}}
    },
    {
      "width": 528,
      "height": 62,
      "layer": [
        {
          "data": {"name": "storms"},
          "mark": {"type": "rect", "color": "#fff100"},
          "encoding": {
            "x": {
              "field": "start", "type": "temporal",
              "scale": {"domain": [{"year": 2023, "month": 9, "date": 11}, {"year": 2023, "month": 10, "date": 13}], "padding": 0},
              "axis": {
                "grid": true, "labels": false, "title": null,
                "values": [{"year": 2023, "month": 9, "date": 11}, {"year": 2023, "month": 9, "date": 15}, {"year": 2023, "month": 9, "date": 19}, {"year": 2023, "month": 9, "date": 23}, {"year": 2023, "month": 9, "date": 27}, {"year": 2023, "month": 10, "date": 1}, {"year": 2023, "month": 10, "date": 5}, {"year": 2023, "month": 10, "date": 9}, {"year": 2023, "month": 10, "date": 13}]
              }
            },
            "x2": {"field": "end"},
            "y": {
              "datum": 2.347, "type": "quantitative", "scale": {"domain": [0, 2], "nice": false},
              "axis": {"title": ["Wave", "height [m]"], "titlePadding": 5, "labelPadding": 9, "grid": true, "values": [0, 1, 2], "labelExpr": "datum.value == 0 ? '0' : format(datum.value, '.1f')"}
            },
            "y2": {"datum": -0.399}
          }
        },
        {
          "data": {"name": "waves"},
          "mark": {"type": "bar", "size": 6.5, "color": "#231815"},
          "encoding": {
            "x": {
              "field": "t", "type": "temporal",
              "scale": {"domain": [{"year": 2023, "month": 9, "date": 11}, {"year": 2023, "month": 10, "date": 13}], "padding": 0},
              "axis": {
                "grid": true, "labels": false, "title": null,
                "values": [{"year": 2023, "month": 9, "date": 11}, {"year": 2023, "month": 9, "date": 15}, {"year": 2023, "month": 9, "date": 19}, {"year": 2023, "month": 9, "date": 23}, {"year": 2023, "month": 9, "date": 27}, {"year": 2023, "month": 10, "date": 1}, {"year": 2023, "month": 10, "date": 5}, {"year": 2023, "month": 10, "date": 9}, {"year": 2023, "month": 10, "date": 13}]
              }
            },
            "y": {
              "field": "h", "type": "quantitative", "scale": {"domain": [0, 2], "nice": false},
              "axis": {"title": ["Wave", "height [m]"], "titlePadding": 5, "labelPadding": 9, "grid": true, "values": [0, 1, 2], "labelExpr": "datum.value == 0 ? '0' : format(datum.value, '.1f')"}
            }
          }
        }
      ]
    },
    {
      "width": 528,
      "height": 97,
      "layer": [
        {
          "data": {"name": "storms"},
          "mark": {"type": "rect", "color": "#fff100"},
          "encoding": {
            "x": {
              "field": "start", "type": "temporal",
              "scale": {"domain": [{"year": 2023, "month": 9, "date": 11}, {"year": 2023, "month": 10, "date": 13}], "padding": 0},
              "axis": {
                "grid": true, "title": null,
                "labelFlush": false, "labelOverlap": false, "labelPadding": 8,
                "values": [{"year": 2023, "month": 9, "date": 11}, {"year": 2023, "month": 9, "date": 15}, {"year": 2023, "month": 9, "date": 19}, {"year": 2023, "month": 9, "date": 23}, {"year": 2023, "month": 9, "date": 27}, {"year": 2023, "month": 10, "date": 1}, {"year": 2023, "month": 10, "date": 5}, {"year": 2023, "month": 10, "date": 9}, {"year": 2023, "month": 10, "date": 13}],
                "labelExpr": "date(datum.value) == 11 && month(datum.value) == 8 ? ['Sep.11', '2023'] : date(datum.value) == 1 ? ['Oct.1', '2023'] : '' + date(datum.value)"
              }
            },
            "x2": {"field": "end"},
            "y": {
              "datum": 1.655, "type": "quantitative", "scale": {"domain": [0, 1.5], "nice": false},
              "axis": {"title": "Water level [m]", "titlePadding": 12, "labelPadding": 9, "grid": true, "values": [0, 0.5, 1, 1.5], "labelExpr": "datum.value == 0 ? '0' : format(datum.value, '.1f')"}
            },
            "y2": {"datum": 0}
          }
        },
        {
          "data": {"name": "tide"},
          "mark": {"type": "line", "interpolate": "monotone", "strokeWidth": 1.7, "color": "#231815"},
          "encoding": {
            "x": {
              "field": "t", "type": "temporal",
              "scale": {"domain": [{"year": 2023, "month": 9, "date": 11}, {"year": 2023, "month": 10, "date": 13}], "padding": 0},
              "axis": {
                "grid": true, "title": null,
                "labelFlush": false, "labelOverlap": false, "labelPadding": 8,
                "values": [{"year": 2023, "month": 9, "date": 11}, {"year": 2023, "month": 9, "date": 15}, {"year": 2023, "month": 9, "date": 19}, {"year": 2023, "month": 9, "date": 23}, {"year": 2023, "month": 9, "date": 27}, {"year": 2023, "month": 10, "date": 1}, {"year": 2023, "month": 10, "date": 5}, {"year": 2023, "month": 10, "date": 9}, {"year": 2023, "month": 10, "date": 13}],
                "labelExpr": "date(datum.value) == 11 && month(datum.value) == 8 ? ['Sep.11', '2023'] : date(datum.value) == 1 ? ['Oct.1', '2023'] : '' + date(datum.value)"
              }
            },
            "y": {
              "field": "v", "type": "quantitative", "scale": {"domain": [0, 1.5], "nice": false},
              "axis": {"title": "Water level [m]", "titlePadding": 12, "labelPadding": 9, "grid": true, "values": [0, 0.5, 1, 1.5], "labelExpr": "datum.value == 0 ? '0' : format(datum.value, '.1f')"}
            },
            "detail": {"field": "seg", "type": "nominal"}
          }
        }
      ]
    }
  ]
}
